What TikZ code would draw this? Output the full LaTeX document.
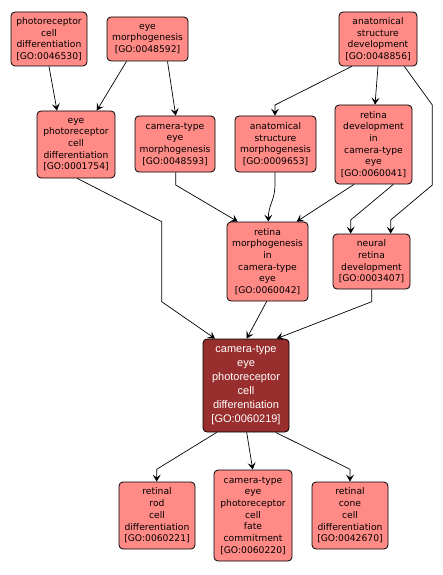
\documentclass[tikz,border=0pt]{standalone}
\usepackage{fontspec}
\setmainfont{DejaVu Sans}
\newfontfamily\darkfont{Liberation Sans}
\usetikzlibrary{arrows.meta}
\definecolor{lightfill}{HTML}{FF8A86}
\definecolor{darkfill}{HTML}{992E2E}
\tikzset{
  goterm/.style={draw=black, line width=0.8pt, rounded corners=4pt, fill=lightfill, align=center,
    inner sep=0pt, font=\fontsize{9.2}{11.7}\selectfont, text=black},
  goroot/.style={draw=black, line width=0.8pt, rounded corners=4pt, fill=darkfill, align=center,
    inner sep=0pt, font=\darkfont\fontsize{11}{14}\selectfont, text=white},
  conn/.style={draw=black, line width=0.7pt, -{Stealth[length=7pt,width=8pt,inset=3pt]}},
}
\begin{document}
\begin{tikzpicture}[x=1pt,y=-1pt]
\useasboundingbox[fill=white] (0,0) rectangle (443,575);
\node[goterm, minimum width=76pt, minimum height=54pt] (n1) at (49,39) {photoreceptor\\cell\\differentiation\\{[GO:0046530]}};
\node[goterm, minimum width=81pt, minimum height=44pt] (n2) at (147.5,39) {eye\\morphogenesis\\{[GO:0048592]}};
\node[goterm, minimum width=78pt, minimum height=54pt] (n3) at (378,39) {anatomical\\structure\\development\\{[GO:0048856]}};
\node[goterm, minimum width=78pt, minimum height=67pt] (n4) at (76,144.5) {eye\\photoreceptor\\cell\\differentiation\\{[GO:0001754]}};
\node[goterm, minimum width=80pt, minimum height=56pt] (n5) at (175,144) {camera-type\\eye\\morphogenesis\\{[GO:0048593]}};
\node[goterm, minimum width=81pt, minimum height=56pt] (n6) at (275.5,144) {anatomical\\structure\\morphogenesis\\{[GO:0009653]}};
\node[goterm, minimum width=77pt, minimum height=79pt] (n7) at (373.5,144.5) {retina\\development\\in\\camera-type\\eye\\{[GO:0060041]}};
\node[goterm, minimum width=81pt, minimum height=79pt] (n8) at (267.5,261.5) {retina\\morphogenesis\\in\\camera-type\\eye\\{[GO:0060042]}};
\node[goterm, minimum width=77pt, minimum height=55pt] (n9) at (371.5,261.5) {neural\\retina\\development\\{[GO:0003407]}};
\node[goroot, minimum width=86pt, minimum height=93pt] (n10) at (246,385.5) {camera-type\\eye\\photoreceptor\\cell\\differentiation\\{[GO:0060219]}};
\node[goterm, minimum width=76pt, minimum height=67pt] (n11) at (157,515.5) {retinal\\rod\\cell\\differentiation\\{[GO:0060221]}};
\node[goterm, minimum width=78pt, minimum height=91pt] (n12) at (253,515.5) {camera-type\\eye\\photoreceptor\\cell\\fate\\commitment\\{[GO:0060220]}};
\node[goterm, minimum width=76pt, minimum height=67pt] (n13) at (350,515.5) {retinal\\cone\\cell\\differentiation\\{[GO:0042670]}};
% edges
\draw[conn] (n1.south) -- ([xshift=-19pt]n4.north);
\draw[conn] ([xshift=-21pt]n2.south) -- ([xshift=20.7pt]n4.north);
\draw[conn] ([xshift=20pt]n2.south) -- ([xshift=0.7pt]n5.north);
\draw[conn] ([xshift=-26.3pt]n3.south) -- (275,105) -- ([xshift=-0.5pt]n6.north);
\draw[conn] (n3.south) -- ([xshift=1.5pt]n7.north);
\draw[conn] ([xshift=26.3pt]n3.south) -- (432.3,105) -- (432.3,185) -- (390.7,220) -- ([xshift=19.2pt]n9.north);
\draw[conn] ([xshift=-19.5pt]n7.south) -- ([xshift=29.2pt]n8.north);
\draw[conn] ([xshift=19.8pt]n7.south) -- (350.7,220) -- ([xshift=-20.8pt]n9.north);
\draw[conn] ([xshift=0.7pt]n5.south) -- (175.7,185) -- ([xshift=-29.8pt]n8.north);
\draw[conn] ([xshift=-0.5pt]n6.south) -- (275,185) .. controls (275,200) and (268.3,205) .. ([xshift=0.8pt]n8.north);
\draw[conn] ([xshift=1.3pt]n4.south) -- (161.7,221.7) -- (161.7,301.7) -- ([xshift=-31pt]n10.north);
\draw[conn] ([xshift=-0.8pt]n8.south) -- ([xshift=0.7pt]n10.north);
\draw[conn] ([xshift=0.2pt]n9.south) -- (371.7,301.7) -- ([xshift=30.7pt]n10.north);
\draw[conn] ([xshift=-29.3pt]n10.south) -- (156.7,469.3) -- ([xshift=-0.3pt]n11.north);
\draw[conn] ([xshift=0.7pt]n10.south) -- ([xshift=-0.3pt]n12.north);
\draw[conn] ([xshift=29.7pt]n10.south) -- (350,469.3) -- (n13.north);
\end{tikzpicture}
\end{document}
